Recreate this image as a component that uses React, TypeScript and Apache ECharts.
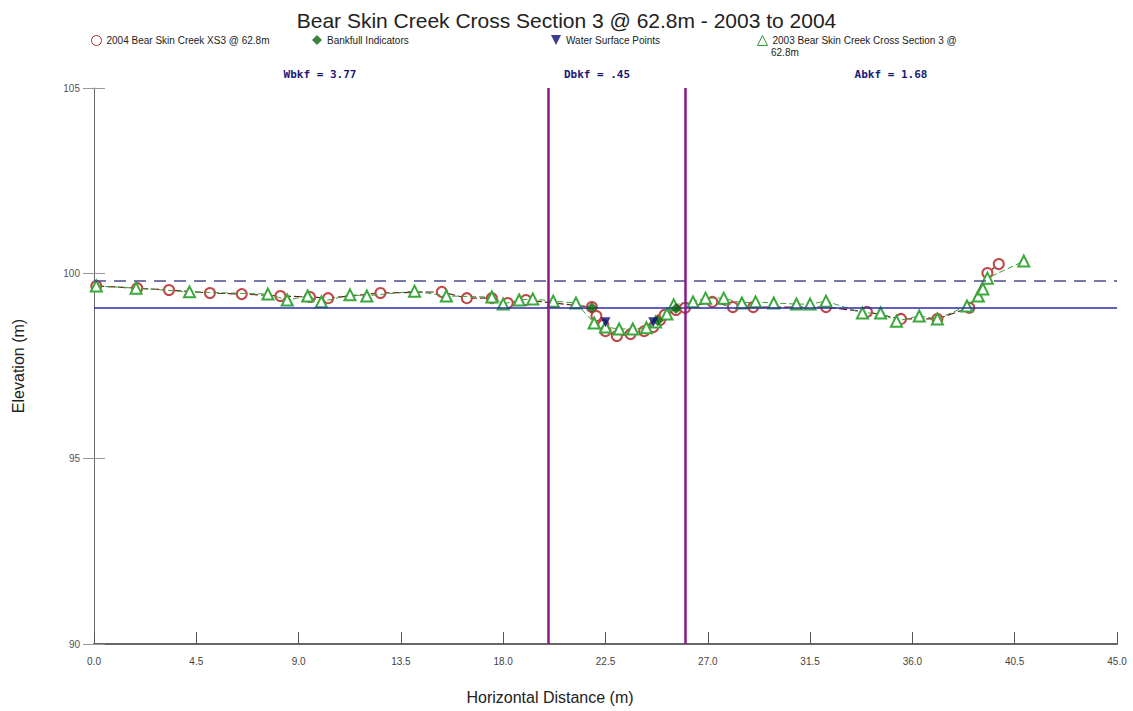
import React, { useEffect, useRef } from "react";
import * as echarts from "echarts";

const TITLE = "Bear Skin Creek Cross Section 3 @ 62.8m - 2003 to 2004";
const S2004 = "2004 Bear Skin Creek XS3 @ 62.8m";
const SBANK = "Bankfull Indicators";
const SWATER = "Water Surface Points";
const S2003 = "2003 Bear Skin Creek Cross Section 3 @ 62.8m";
const X_NAME = "Horizontal Distance (m)";
const Y_NAME = "Elevation (m)";

const xTicks = ["0.0", "4.5", "9.0", "13.5", "18.0", "22.5", "27.0", "31.5", "36.0", "40.5", "45.0"];

// 2004 survey (station m, elevation m)
const x2004 = [0.1, 1.9, 3.3, 5.1, 6.5, 8.2, 9.5, 10.3, 12.6, 15.3, 16.4, 17.5, 18.2, 19.0, 21.9, 22.1, 22.4, 22.5, 23.0, 23.6, 24.2, 24.6, 24.9, 25.1, 25.6, 26.0, 27.2, 28.1, 29.0, 32.2, 34.0, 35.5, 37.1, 38.5, 39.3, 39.8];
const y2004 = [99.66, 99.6, 99.55, 99.47, 99.44, 99.39, 99.36, 99.33, 99.47, 99.5, 99.33, 99.33, 99.2, 99.28, 99.09, 98.85, 98.61, 98.44, 98.31, 98.36, 98.44, 98.55, 98.74, 98.88, 99.01, 99.07, 99.23, 99.09, 99.09, 99.09, 98.96, 98.77, 98.77, 99.07, 100.01, 100.25];

// 2003 survey
const x2003 = [0.1, 1.85, 4.2, 7.65, 8.5, 9.4, 10.0, 11.26, 12.0, 14.1, 15.5, 17.5, 18.0, 18.7, 19.3, 20.2, 21.2, 22.0, 22.5, 23.1, 23.7, 24.3, 24.7, 25.2, 25.5, 26.35, 26.9, 27.7, 28.5, 29.1, 29.9, 30.9, 31.5, 32.2, 33.8, 34.6, 35.3, 36.3, 37.1, 38.4, 38.9, 39.1, 39.3, 40.9];
const y2003 = [99.66, 99.6, 99.5, 99.44, 99.28, 99.39, 99.23, 99.42, 99.39, 99.52, 99.39, 99.36, 99.17, 99.28, 99.31, 99.25, 99.2, 98.66, 98.55, 98.5, 98.5, 98.53, 98.69, 98.9, 99.15, 99.23, 99.33, 99.33, 99.2, 99.23, 99.2, 99.17, 99.17, 99.25, 98.93, 98.93, 98.71, 98.85, 98.77, 99.12, 99.39, 99.58, 99.87, 100.33];

const xBank = [21.9, 24.8, 25.6];
const yBank = [99.07, 98.72, 99.05];
const xWater = [22.5, 24.6];
const yWater = [98.68, 98.68];

const bankfullStations = [20.0, 26.0];
const bankfullElev = 99.79;
const waterElev = 99.07;

const statLabels = ["Wbkf = 3.77", "Dbkf = .45", "Abkf = 1.68"];

const zip = (xs: number[], ys: number[]) => xs.map((x, i) => [x, ys[i]]);

const FONT = "'Liberation Sans Narrow', 'Liberation Sans', Arial, sans-serif";
const SANS = "'Liberation Sans', Arial, sans-serif";
const INV_TRI = "path://M0,0 L10,0 L5,10 Z";

export default function App() {
  const ref = useRef<HTMLDivElement>(null);
  useEffect(() => {
    document.body.style.margin = "0";
    const chart = echarts.init(ref.current!, null, { renderer: "svg" });
    const legendBase = {
      top: 35,
      itemWidth: 10,
      itemHeight: 10,
      itemGap: 4,
      padding: 0,
      textStyle: { fontSize: 10, color: "#222", fontFamily: FONT },
      selectedMode: false,
    };
    chart.setOption({
      animation: false,
      backgroundColor: "#fff",
      title: {
        text: TITLE,
        left: "center",
        top: 5,
        textStyle: { fontSize: 21, fontWeight: "normal", color: "#222", fontFamily: SANS },
      },
      legend: [
        { ...legendBase, left: 91, data: [{ name: S2004, icon: "circle", itemStyle: { color: "#fff", borderColor: "#b03030", borderWidth: 1 } }] },
        { ...legendBase, left: 312, data: [{ name: SBANK, icon: "diamond", itemStyle: { color: "#0a640a" } }] },
        { ...legendBase, left: 551, data: [{ name: SWATER, icon: INV_TRI, itemStyle: { color: "#0b0b7a" } }] },
        {
          ...legendBase,
          left: 757,
          formatter: () => "2003 Bear Skin Creek Cross Section 3 @",
          data: [{ name: S2003, icon: "triangle", itemStyle: { color: "#fff", borderColor: "#2e9a2e", borderWidth: 1 } }],
        },
      ],
      graphic: [
        { type: "text", left: 771, top: 47, style: { text: "62.8m", fontSize: 10, fill: "#222", fontFamily: FONT } },
        { type: "text", x: 550, y: 697, style: { text: X_NAME, fontSize: 16, fill: "#222", fontFamily: SANS, align: "center", verticalAlign: "middle" } },
        ...statLabels.map((t, i) => ({
          type: "text",
          x: [320, 597, 891][i],
          y: 74,
          style: { text: t, fontSize: 11, fontWeight: "bold", fill: "#1a1a78", fontFamily: "'DejaVu Sans Mono', monospace", align: "center", verticalAlign: "middle" },
        })),
      ],
      grid: { left: 94, right: 16, top: 88, bottom: 67, containLabel: false },
      xAxis: {
        type: "value",
        min: 0,
        max: 45,
        interval: 4.5,
        axisLine: { lineStyle: { color: "#666", width: 2 } },
        axisTick: { inside: true, length: 12, lineStyle: { color: "#555" } },
        axisLabel: { fontSize: 10, color: "#444", margin: 12, fontFamily: FONT, formatter: (v: number) => xTicks[Math.round(v / 4.5)] ?? v.toFixed(1) },
        splitLine: { show: false },
      },
      yAxis: [
        {
          type: "value",
          min: 90,
          max: 105,
          interval: 5,
          name: Y_NAME,
          nameLocation: "middle",
          nameGap: 68,
          nameTextStyle: { fontSize: 16, color: "#222", fontFamily: SANS },
          axisLine: { show: true, lineStyle: { color: "#666", width: 1 } },
          axisTick: { show: true, length: 11, lineStyle: { color: "#999" } },
          axisLabel: { fontSize: 10, color: "#555", margin: 14, fontFamily: FONT },
          splitLine: { show: false },
        },
        {
          type: "value",
          min: 90,
          max: 105,
          interval: 5,
          position: "left",
          axisLine: { show: false },
          axisTick: { show: true, inside: true, length: 11, lineStyle: { color: "#999" } },
          axisLabel: { show: false },
          splitLine: { show: false },
        },
      ],
      series: [
        {
          name: "refs",
          type: "line",
          data: [],
          silent: true,
          markLine: {
            silent: true,
            symbol: "none",
            label: { show: false },
            data: [
              { yAxis: bankfullElev, lineStyle: { color: "#4b4b8c", width: 1.6, type: [12, 8] } },
              { yAxis: waterElev, lineStyle: { color: "#2a2ab0", width: 1.5, type: "solid" } },
              ...bankfullStations.map((s) => ({ xAxis: s, lineStyle: { color: "#8a1a8a", width: 2.5, type: "solid" } })),
            ],
          },
        },
        {
          name: S2004,
          type: "line",
          data: zip(x2004, y2004),
          symbol: "emptyCircle",
          symbolSize: 10,
          itemStyle: { color: "#c04848", borderWidth: 0.9 },
          lineStyle: { color: "#6a1f1f", width: 1.2, type: [8, 3] },
          z: 3,
        },
        {
          name: S2003,
          type: "line",
          data: zip(x2003, y2003),
          symbol: "emptyTriangle",
          symbolSize: 11,
          itemStyle: { color: "#3aa83a", borderWidth: 0.9 },
          lineStyle: { color: "#3aa03a", width: 1, type: [6, 3] },
          z: 4,
        },
        {
          name: SBANK,
          type: "scatter",
          data: zip(xBank, yBank),
          symbol: "diamond",
          symbolSize: 11,
          itemStyle: { color: "#0a640a" },
          z: 5,
        },
        {
          name: SWATER,
          type: "scatter",
          data: zip(xWater, yWater),
          symbol: INV_TRI,
          symbolSize: 10,
          itemStyle: { color: "#0b0b7a" },
          z: 6,
        },
      ],
    });
    return () => chart.dispose();
  }, []);
  return <div ref={ref} style={{ width: 1133, height: 711 }} />;
}
